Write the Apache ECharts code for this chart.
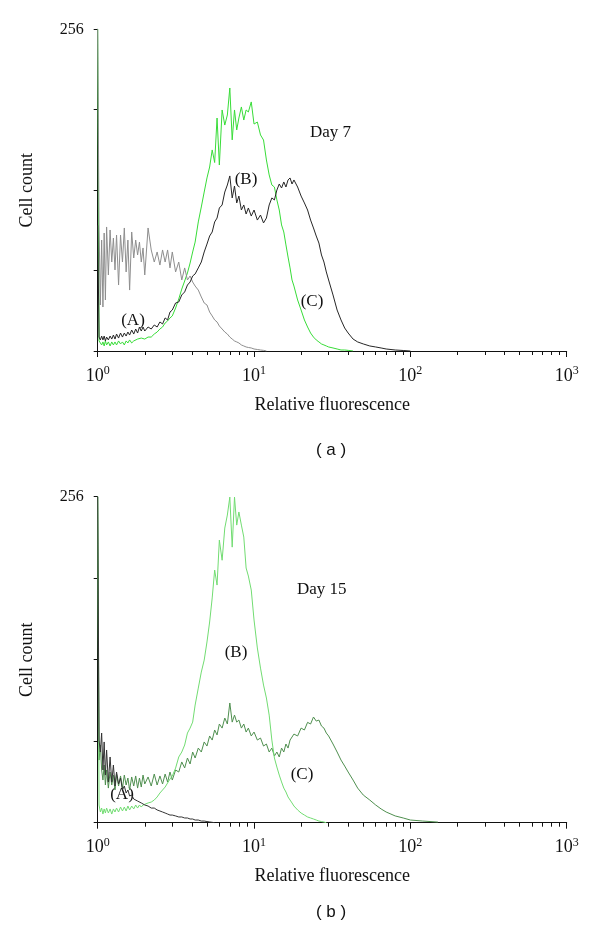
<!DOCTYPE html>
<html>
<head>
<meta charset="utf-8">
<script src="https://cdn.jsdelivr.net/npm/echarts@6/dist/echarts.min.js"></script>
<style>
html,body{margin:0;padding:0;background:#fff;}
#chart{width:600px;height:939px;}
</style>
</head>
<body>
<div id="chart"></div>
<script>
// Relative fluorescence sampling points (shared by all histograms)
const fluor = [1.00,1.02,1.04,1.06,1.08,1.10,1.12,1.14,1.17,1.20,
 1.23,1.26,1.29,1.32,1.36,1.40,1.44,1.48,1.52,1.56,
 1.60,1.65,1.70,1.75,1.80,1.85,1.90,1.95,2.00,2.1,
 2.2,2.3,2.4,2.5,2.6,2.7,2.8,2.9,3.0,3.15,
 3.3,3.45,3.6,3.75,3.9,4.05,4.2,4.4,4.6,4.8,
 5.0,5.2,5.4,5.6,5.8,6.0,6.25,6.5,6.75,7.0,
 7.25,7.5,7.75,8.0,8.3,8.6,8.9,9.2,9.6,10,
 10.5,11,11.5,12,12.5,13,13.5,14,14.5,15,
 15.5,16,16.5,17,17.5,18,19,20,21,22,
 23,24,25,26,27,28,29,30,32,34,
 36,38,40,43,46,50,55,60,65,70,
 80,90,100,120,150];

// Day 7 cell counts
const day7A = [256,98.7,36.6,88.3,35.0,93.9,40.6,98.7,60.5,96.3,
 70.8,89.9,64.5,92.3,52.5,92.3,70.8,97.9,62.9,88.3,
 48.5,94.7,74.0,88.3,76.4,86.7,70.8,82.0,60.5,97.9,
 80.4,70.8,78.8,68.4,80.4,70.8,80.4,66.1,78.8,62.9,
 70.8,56.5,66.1,56.5,59.7,54.9,51.7,48.5,43.0,38.2,
 36.6,31.0,27.9,24.7,23.1,19.9,17.5,15.1,13.5,11.1,
 9.5,8.0,7.2,6.4,4.8,4.0,3.2,2.8,2.4,1.6,
 1.2,0.8,0.5,0];
const day7B = [256,8,6.4,4.8,7.2,4.0,8.0,4.8,7.2,4.0,
 7.2,4.8,7.2,4.8,8.0,5.6,7.2,4.8,8.0,6.4,
 8.8,6.4,8.0,7.2,9.5,8.0,10.3,9.5,9.5,11.1,
 11.1,13.5,15.1,17.5,19.1,22.3,23.9,26.3,27.9,34.2,
 41.4,49.3,55.7,62.1,70.0,78.8,86.7,102.7,114.6,126.5,
 137.7,146.4,160.0,150.0,185.4,148.0,191.8,179.8,187.8,209.3,
 168,191.8,175.9,185.4,194.2,183.8,191.8,190.2,198.2,180.6,
 182.2,171.9,167.9,152.0,140.1,132.1,130.5,120.2,112.2,100.3,
 94.7,84.4,74.8,66.1,56.5,51.7,40.6,32.6,24.7,19.1,
 14.3,11.1,8.8,7.2,5.6,4.8,4.0,3.2,2.4,1.6,
 0.8,0.8,0.5,0];
const day7C = [100,11.1,8.8,11.9,8.8,11.9,8.0,11.1,8.8,11.9,
 9.5,12.7,9.5,13.5,10.3,14.3,11.1,14.3,11.9,15.1,
 12.7,16.7,13.5,17.5,14.3,19.1,15.9,19.1,15.9,19.1,
 17.5,20.7,19.1,23.1,21.5,26.3,24.7,31.0,32.6,38.2,
 39.0,44.6,47.0,52.5,54.9,59.7,61.3,66.1,70.8,78.8,
 85.1,91.5,94.7,102.7,105.8,113.8,116.2,126.5,132.1,139.3,
 121.8,131.3,117.8,123.3,112.2,116.2,109.0,113.8,107.4,112.2,
 104.2,108.2,101.9,105.8,116.2,121.8,120.2,128.1,132.9,129.7,
 134.5,130.5,136.1,137.7,132.9,136.1,130.5,123.3,117.8,112.2,
 104.2,97.9,91.5,85.9,76.4,70.8,62.9,56.5,44.6,32.6,
 24.7,18.3,14.3,9.5,7.2,5.6,4.0,3.2,2.4,1.6,
 0.8,0.4,0];

// Day 15 cell counts
const day15A = [256,64.9,55.5,70.4,41.4,63.4,37.4,57.1,31.9,51.6,
 31.9,45.3,28.8,39.8,30.4,35.1,25.7,28.8,23.3,25.7,
 21.0,21.7,18.6,19.4,17.0,17.0,15.5,15.5,13.9,13.1,
 11.5,11.5,10.0,9.2,8.4,7.6,6.8,6.0,6.0,5.3,
 4.5,4.5,3.7,3.7,2.9,2.9,2.1,2.1,1.3,1.3,
 0.9,0.6,0.3,0];
const day15B = [256,13.9,8.4,11.5,6.8,10.8,7.6,11.5,7.6,10.8,
 6.8,10.8,8.4,11.5,8.4,12.3,9.2,12.3,9.2,13.1,
 10.0,13.1,10.8,13.9,11.5,13.9,12.3,13.9,13.1,15.5,
 16.2,17.8,20.2,23.3,25.7,28.0,31.2,34.3,36.7,42.9,
 51.6,55.5,61.0,70.4,74.3,79.0,92.4,105.7,118.3,127.7,
 141.9,157.6,176.5,198.4,186.6,221.9,206.1,231.4,241.6,255.7,
 216.4,255.7,233.7,244.0,233.7,224.3,200.0,193.7,182.7,159.2,
 137.2,121.4,108.1,97.9,84.5,64.9,50.8,43.7,37.4,32.0,
 27.2,24.1,20.2,17.8,15.5,13.1,10.0,7.6,6.0,4.5,
 3.7,2.9,2.1,1.3,0.9,0.5,0];
const day15C = [256,49.2,61.0,41.4,33.5,45.3,29.6,41.4,27.2,39.8,
 29.6,37.4,25.7,38.2,28.8,36.7,27.2,37.4,29.6,35.1,
 25.7,35.9,28.8,36.7,27.2,35.1,28.0,37.4,30.4,35.9,
 28.8,38.2,29.6,36.7,30.4,38.2,31.9,39.8,33.5,41.4,
 39.8,47.7,43.0,50.8,46.1,55.5,50.8,58.6,55.5,63.4,
 60.2,68.1,64.9,72.8,68.9,77.5,74.3,82.2,77.5,94.0,
 79.0,84.5,79.0,80.6,74.3,77.5,71.2,74.3,68.1,71.2,
 64.9,66.5,60.2,61.8,55.5,58.6,52.4,55.5,51.6,58.6,
 55.5,61.8,58.6,64.9,63.4,69.6,68.1,74.3,72.8,78.8,
 77.5,83.0,79.8,80.6,75.9,74.3,70.4,68.1,61.8,55.5,
 49.2,44.5,39.8,33.5,27.2,21.7,17.8,13.9,10.8,8.4,
 5.3,3.7,2.1,1.3,0.5];

// Axis ticks
const majorTicks = [1, 10, 100, 1000];
const minorTicks = [2,3,4,5,6,7,8,9,20,30,40,50,60,70,80,90,200,300,400,500,600,700,800,900];
const yMax = 256;
const yInterval = 64;

const pairs = ys => ys.map((y, i) => [fluor[i], y]);

const SERIF = '"Liberation Serif", "DejaVu Serif", serif';
const AX = '#111';

function xAxes(gi) {
  return [
    {
      type: 'log', logBase: 10, min: 1, max: 1000, gridIndex: gi, position: 'bottom',
      axisLine: { show: true, lineStyle: { color: AX, width: 1 } },
      axisTick: { show: true, length: 6, customValues: majorTicks, lineStyle: { color: AX } },
      axisLabel: {
        customValues: majorTicks, margin: 14, color: '#111',
        formatter: v => '{b|10}{s|' + Math.round(Math.log10(v)) + '}',
        rich: {
          b: { fontSize: 18, fontFamily: SERIF, color: '#111', lineHeight: 20, verticalAlign: 'bottom' },
          s: { fontSize: 12, fontFamily: SERIF, color: '#111', lineHeight: 20, verticalAlign: 'top' }
        }
      },
      splitLine: { show: false },
      name: 'Relative fluorescence', nameLocation: 'middle', nameGap: 45,
      nameTextStyle: { fontSize: 18, fontFamily: SERIF, color: '#111' }
    },
    {
      type: 'log', logBase: 10, min: 1, max: 1000, gridIndex: gi, position: 'bottom', offset: 0,
      axisLine: { show: false },
      axisTick: { show: true, length: 4, customValues: minorTicks, lineStyle: { color: AX } },
      axisLabel: { show: false },
      splitLine: { show: false }
    }
  ];
}
function yAxis(gi) {
  return {
    type: 'value', min: 0, max: yMax, interval: yInterval, gridIndex: gi,
    axisLine: { show: true, lineStyle: { color: AX, width: 1 } },
    axisTick: { show: true, length: 4, lineStyle: { color: AX } },
    axisLabel: { margin: 14, fontSize: 16, fontFamily: SERIF, color: '#111',
      formatter: v => (v === yMax ? String(yMax) : '') },
    splitLine: { show: false },
    name: 'Cell count', nameLocation: 'middle', nameGap: 61,
    nameTextStyle: { fontSize: 18, fontFamily: SERIF, color: '#111' }
  };
}
function line(data, color, xi, yi) {
  return { type: 'line', data: pairs(data), xAxisIndex: xi, yAxisIndex: yi,
    showSymbol: false, symbol: 'none', animation: false,
    lineStyle: { color: color, width: 1 }, itemStyle: { color: color } };
}
function txt(x, y, s, size, font) {
  return { type: 'text', x: x, y: y, style: { text: s, fontSize: size || 17, fontFamily: font || SERIF,
    fill: '#111', align: 'center', verticalAlign: 'middle' } };
}

const chart = echarts.init(document.getElementById('chart'), null, { renderer: 'canvas' });
chart.setOption({
  backgroundColor: '#fff',
  animation: false,
  grid: [
    { left: 97.7, top: 29.3, width: 469, height: 321.7 },
    { left: 97.7, top: 496.7, width: 469, height: 326 }
  ],
  xAxis: [...xAxes(0), ...xAxes(1)],
  yAxis: [yAxis(0), yAxis(1)],
  series: [
    line(day7B, '#38dc38', 0, 0),
    line(day7A, '#8e8e8e', 0, 0),
    line(day7C, '#262626', 0, 0),
    line(day15C, '#4f8f4f', 2, 1),
    line(day15B, '#72dc72', 2, 1),
    line(day15A, '#333333', 2, 1)
  ],
  graphic: [
    { type: 'text', x: 310, y: 133, style: { text: 'Day 7', fontSize: 17, fontFamily: SERIF, fill: '#111', align: 'left', verticalAlign: 'middle' } },
    { type: 'text', x: 297, y: 590, style: { text: 'Day 15', fontSize: 17, fontFamily: SERIF, fill: '#111', align: 'left', verticalAlign: 'middle' } },
    txt(133, 321, '(A)'), txt(246, 180, '(B)'), txt(312, 302, '(C)'),
    txt(122, 795, '(A)'), txt(236, 653, '(B)'), txt(302, 775, '(C)'),
    txt(331, 450, '( a )', 17, '"Liberation Sans", Arial, sans-serif'),
    txt(331, 912, '( b )', 17, '"Liberation Sans", Arial, sans-serif')
  ]
});
</script>
</body>
</html>
